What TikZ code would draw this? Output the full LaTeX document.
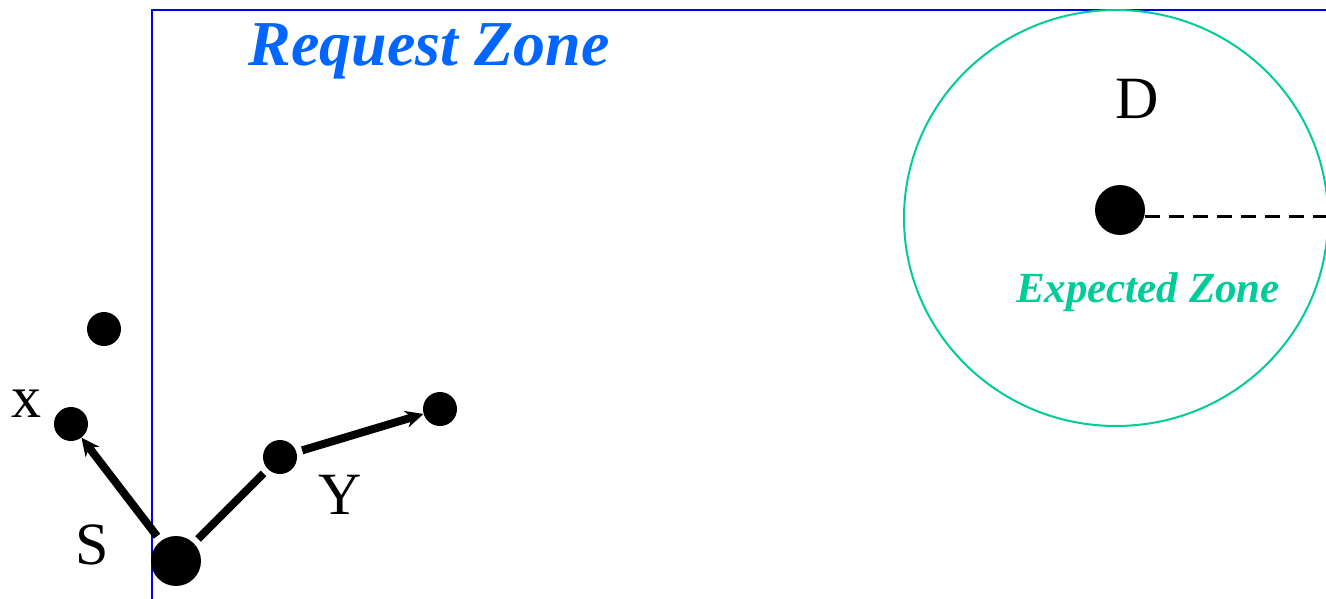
\documentclass[tikz,border=0pt]{standalone}
\usepackage{fontspec}
\setmainfont{Liberation Serif}
\usetikzlibrary{arrows.meta}
\definecolor{zoneblue}{RGB}{0,0,230}
\definecolor{titleblue}{RGB}{0,102,255}
\definecolor{teal}{RGB}{0,204,153}
\tikzset{
  dot/.style={circle,fill=black,inner sep=0pt,minimum size=34pt},
  bigdot/.style={circle,fill=black,inner sep=0pt,minimum size=50pt},
  lbl/.style={font=\fontsize{60}{68}\selectfont},
  link/.style={line width=8pt},
  linkarrow/.style={line width=8pt,-{Stealth[length=18pt,width=17pt]}},
}
\begin{document}
\begin{tikzpicture}[x=1pt,y=-1pt]
\useasboundingbox (0,0) rectangle (1326,599);
% request zone border
\draw[zoneblue,line width=2.5pt] (152,599) -- (152,10) -- (1330,10);
\node[font=\bfseries\itshape\fontsize{64}{72}\selectfont,text=titleblue] (rz) at (429,51) {Request Zone};
% expected zone
\draw[teal,line width=2pt] (1116,218) ellipse [x radius=212, y radius=208];
\node[font=\bfseries\itshape\fontsize{43}{50}\selectfont,text=teal] (ez) at (1148,292) {Expected Zone};
\node[lbl] (Dl) at (1137,99) {D};
\node[bigdot] (D) at (1120,210) {};
\coordinate (De) at (1330,216);
\draw[line width=3pt,dash pattern=on 15pt off 9pt] (D.east |- De) -- (De);
% other dots
\node[dot] (p) at (104,329) {};
\node[dot] (xd) at (71,424) {};
\node[bigdot] (S) at (176,561) {};
\node[dot] (yd) at (280,457) {};
\node[dot] (q) at (440,409) {};
\node[lbl] (xl) at (27,404) {x};
\node[lbl] (Sl) at (92,545) {S};
\node[lbl] (Yl) at (340,495) {Y};
% connectors
\draw[linkarrow,shorten <=6pt] (S) -- (xd);
\draw[link,shorten <=6pt,shorten >=6pt] (S) -- (yd);
\draw[linkarrow,shorten <=6pt] (yd) -- (q);
\end{tikzpicture}
\end{document}
